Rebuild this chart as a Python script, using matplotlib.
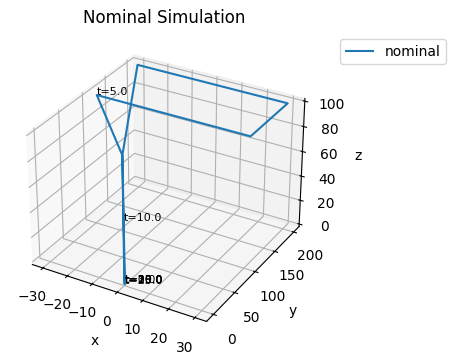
import matplotlib
matplotlib.use("Agg")
import matplotlib.pyplot as plt

# waypoints of the nominal run
x = [0, 0, -30, 30, 30, -30, 0, 0.4]
y = [0, 0, 108, 108, 200, 200, 0, -1]
z = [0, 100, 100, 100, 100, 100, 100, 0]

# time labels
labels = ["t=0.0", "t=5.0", "t=10.0", "t=15.0", "t=20.0", "t=25.0", "t=30.0"]
label_x = [0, -30, 0.2, 0.4, 0.2, 0.6, 0.3]
label_y = [0, 108, -0.5, -1, 0, -2, -1]
label_z = [0, 100, 50, 0.5, 0, 0, 0.5]

W, H = 456, 364
fig = plt.figure(figsize=(W / 100, H / 100), dpi=100)
ax = fig.add_axes([9 / W, 23 / H, 310 / W, 310 / H], projection="3d")

ax.plot(x, y, z, label="nominal")
for i in range(len(labels)):
	ax.text(label_x[i], label_y[i], label_z[i], labels[i], fontsize=8)

ax.set_xlabel("x")
ax.set_ylabel("y")
ax.set_zlabel("z")
ax.set_title("Nominal Simulation")
ax.legend(loc="upper left", bbox_to_anchor=(340 / W, 1 - 39 / H), bbox_transform=fig.transFigure, borderaxespad=0)

fig.savefig("out.png", dpi=100)
